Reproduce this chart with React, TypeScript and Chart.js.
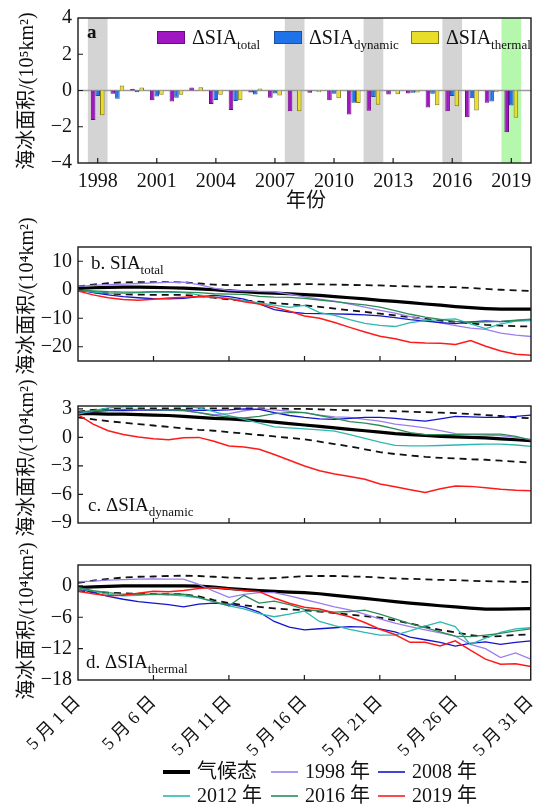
import React, { useEffect, useRef } from 'react';
import { Chart, registerables } from 'chart.js';
Chart.register(...registerables);

// ---------------- data ----------------
const years = [1998, 1999, 2000, 2001, 2002, 2003, 2004, 2005, 2006, 2007, 2008, 2009, 2010, 2011, 2012, 2013, 2014, 2015, 2016, 2017, 2018, 2019];
const totalVals = [-1.63, -0.18, 0.09, -0.54, -0.61, 0.16, -0.74, -1.08, -0.11, -0.4, -1.14, -0.13, -0.54, -1.32, -1.12, -0.22, -0.16, -0.94, -1.14, -1.48, -0.67, -2.3];
const dynamicVals = [-0.3, -0.45, -0.09, -0.33, -0.4, -0.02, -0.52, -0.58, -0.22, -0.16, -0.02, -0.02, -0.18, -0.67, -0.36, -0.02, -0.13, -0.18, -0.31, -0.43, -0.6, -0.83];
const thermalVals = [-1.36, 0.27, 0.16, -0.23, -0.23, 0.18, -0.23, -0.54, 0.11, -0.27, -1.14, -0.1, -0.43, -0.69, -0.78, -0.2, -0.11, -0.81, -0.87, -1.1, -0.1, -1.5];
const yearTicks = [1998, 2001, 2004, 2007, 2010, 2013, 2016, 2019];
const barYTicks = [-4, -2, 0, 2, 4];
const grayYears = [1998, 2008, 2012, 2016];
const greenYears = [2019];
const barLegend = [['ΔSIA', 'total'], ['ΔSIA', 'dynamic'], ['ΔSIA', 'thermal']];

const days = [1, 2, 3, 4, 5, 6, 7, 8, 9, 10, 11, 12, 13, 14, 15, 16, 17, 18, 19, 20, 21, 22, 23, 24, 25, 26, 27, 28, 29, 30, 31];
const dayTicks = [1, 6, 11, 16, 21, 26, 31];

const bClim = [0.5, 0.7, 0.8, 0.9, 0.9, 0.8, 0.7, 0.6, 0.3, 0, -0.4, -0.7, -1.0, -1.2, -1.4, -1.7, -2.0, -2.4, -2.8, -3.2, -3.7, -4.1, -4.5, -5.0, -5.4, -5.9, -6.3, -6.6, -6.8, -6.8, -6.8];
const bUpper = [1.2, 1.8, 2.3, 2.6, 2.7, 2.7, 2.7, 2.6, 2.2, 1.8, 1.6, 1.6, 1.7, 1.8, 1.9, 2.0, 1.9, 1.8, 1.7, 1.6, 1.5, 1.3, 1.2, 1.1, 1.0, 0.9, 0.6, 0.3, 0, -0.2, -0.4];
const bLower = [0, -0.8, -1.3, -1.6, -1.7, -1.8, -1.8, -1.8, -2.2, -2.8, -3.4, -3.8, -4.2, -4.7, -5.1, -5.5, -6.0, -6.6, -7.2, -7.8, -8.4, -9.0, -9.6, -10.2, -10.8, -11.3, -11.8, -12.3, -12.6, -12.8, -12.9];
const b1998 = [1.2, 1.5, 1.8, 2.0, 2.2, 2.4, 2.6, 2.7, 1.8, 0.6, -0.2, -0.4, -0.6, -0.7, -1.5, -2.5, -3.3, -4.0, -5.0, -6.1, -7.2, -8.2, -9.4, -10.5, -11.6, -12.6, -13.5, -13.9, -15.2, -15.9, -16.4];
const b2008 = [0, -1.0, -1.8, -2.4, -2.8, -3.1, -3.2, -3.0, -2.4, -2.0, -2.4, -3.3, -5.0, -7.0, -7.8, -8.3, -8.4, -8.5, -8.6, -8.8, -9.2, -9.8, -10.5, -11.0, -11.5, -11.9, -11.3, -10.9, -11.2, -10.8, -10.5];
const b2012 = [0, -0.8, -1.2, -1.3, -1.0, -0.8, -0.8, -1.0, -1.8, -2.6, -3.0, -3.8, -4.6, -5.4, -6.2, -5.5, -8.0, -9.0, -10.5, -11.8, -12.5, -12.9, -11.5, -10.8, -10.5, -10.2, -12.0, -13.6, -12.0, -11.0, -10.8];
const b2016 = [0, -0.4, -0.7, -0.8, -0.8, -0.7, -0.7, -0.8, -1.0, -1.4, -1.5, -1.6, -2.3, -2.6, -2.7, -3.0, -3.6, -4.2, -4.8, -5.3, -6.1, -7.3, -8.6, -9.6, -10.4, -11.1, -11.4, -11.3, -11.1, -10.7, -10.3];
const b2019 = [-0.4, -1.8, -2.8, -3.4, -3.7, -3.3, -2.9, -2.6, -2.4, -2.6, -3.2, -4.2, -5.0, -6.1, -7.5, -9.2, -10.0, -11.5, -13.2, -14.8, -16.3, -17.2, -18.4, -18.7, -18.8, -19.2, -17.8, -19.8, -21.5, -22.6, -23.0];
const bYTicks = [-20, -10, 0, 10];

const cClim = [2.5, 2.5, 2.45, 2.45, 2.4, 2.35, 2.3, 2.2, 2.1, 2.0, 1.95, 1.85, 1.75, 1.6, 1.45, 1.3, 1.15, 1.0, 0.85, 0.7, 0.55, 0.4, 0.3, 0.2, 0.1, 0.05, 0, -0.05, -0.15, -0.25, -0.35];
const cUpper = [2.7, 2.9, 3.0, 3.05, 3.05, 3.05, 3.05, 3.05, 3.05, 3.05, 3.05, 3.05, 3.05, 3.05, 3.0, 3.0, 2.95, 2.9, 2.85, 2.85, 2.8, 2.75, 2.7, 2.65, 2.6, 2.55, 2.45, 2.35, 2.25, 2.1, 2.0];
const cLower = [2.1, 1.9, 1.7, 1.55, 1.4, 1.25, 1.1, 0.95, 0.8, 0.7, 0.55, 0.4, 0.25, 0.1, -0.05, -0.2, -0.45, -0.7, -0.95, -1.25, -1.55, -1.75, -1.9, -2.05, -2.15, -2.2, -2.3, -2.35, -2.45, -2.55, -2.65];
const c1998 = [2.6, 2.7, 2.8, 2.8, 2.85, 2.85, 2.85, 2.8, 2.6, 2.4, 2.5, 2.8, 3.0, 2.9, 2.75, 2.6, 2.35, 2.15, 2.1, 1.9, 1.7, 1.4, 1.2, 1.0, 0.7, 0.4, 0.3, 0.25, 0.2, 0, -0.2];
const c2008 = [2.6, 2.75, 2.85, 2.85, 2.9, 2.9, 2.9, 2.9, 2.85, 2.85, 2.9, 3.0, 2.95, 2.6, 2.3, 2.1, 1.95, 1.9, 2.0, 2.1, 2.1, 2.0, 1.85, 1.7, 1.95, 2.2, 2.15, 2.1, 2.1, 2.2, 2.35];
const c2012 = [2.45, 2.8, 3.1, 3.2, 3.3, 3.35, 3.35, 3.3, 3.1, 2.7, 2.3, 1.9, 1.5, 1.1, 1.0, 0.9, 0.8, 0.65, 0.3, -0.1, -0.5, -0.85, -0.9, -0.9, -0.85, -0.8, -0.75, -0.7, -0.7, -0.8, -0.95];
const c2016 = [2.65, 2.8, 2.9, 2.95, 2.95, 2.9, 2.9, 2.85, 2.6, 2.3, 2.15, 2.05, 2.2, 2.5, 2.6, 2.6, 2.3, 2.0, 1.65, 1.5, 1.25, 0.9, 0.5, 0.3, 0.3, 0.3, 0.35, 0.35, 0.35, 0.1, -0.3];
const c2019 = [2.4, 1.4, 0.7, 0.3, 0.05, -0.15, -0.25, -0.05, 0, -0.4, -0.9, -1.0, -1.25, -1.8, -2.4, -3.0, -3.5, -3.85, -4.1, -4.4, -4.9, -5.2, -5.5, -5.8, -5.4, -5.1, -5.15, -5.3, -5.45, -5.55, -5.6];
const cYTicks = [-9, -6, -3, 0, 3];

const dClim = [-0.3, -0.2, -0.1, 0, 0, 0, 0, 0, -0.05, -0.25, -0.5, -0.7, -0.9, -1.05, -1.2, -1.3, -1.5, -1.8, -2.1, -2.4, -2.7, -3.0, -3.3, -3.55, -3.8, -4.0, -4.25, -4.45, -4.45, -4.4, -4.35];
const dUpper = [0.6, 1.0, 1.35, 1.6, 1.75, 1.8, 1.9, 1.95, 1.9, 1.75, 1.6, 1.5, 1.4, 1.5, 1.7, 1.85, 1.9, 1.9, 1.8, 1.75, 1.6, 1.45, 1.35, 1.25, 1.15, 1.1, 1.0, 0.9, 0.85, 0.8, 0.75];
const dLower = [-1.0, -1.15, -1.3, -1.4, -1.5, -1.55, -1.6, -1.6, -2.0, -2.7, -3.3, -3.7, -4.0, -4.3, -4.5, -4.65, -4.9, -5.2, -5.5, -5.8, -6.05, -6.6, -7.2, -7.8, -8.4, -8.9, -9.4, -9.75, -9.6, -9.4, -9.25];
const d1998 = [0.8, 0.9, 1.1, 1.2, 1.3, 1.35, 1.3, 1.3, 0.3, -1.0, -2.2, -1.6, -1.3, -1.3, -1.9, -2.6, -3.3, -4.0, -4.6, -5.4, -6.3, -7.1, -7.8, -8.4, -9.0, -9.6, -11.2, -12.0, -13.7, -12.8, -14.0];
const d2008 = [-0.5, -1.3, -2.0, -2.55, -3.0, -3.3, -3.6, -4.0, -3.5, -3.3, -3.5, -4.0, -5.0, -6.8, -7.9, -8.4, -8.2, -8.0, -7.8, -7.9, -8.2, -8.8, -9.8, -10.3, -10.8, -11.5, -11.0, -10.7, -11.2, -10.8, -10.5];
const d2012 = [-0.5, -1.0, -1.6, -1.9, -1.8, -1.6, -1.7, -1.9, -2.3, -3.0, -3.8, -4.4, -5.3, -5.9, -5.4, -4.8, -6.8, -7.6, -8.3, -8.9, -9.4, -9.4, -8.6, -7.7, -6.9, -7.8, -11.2, -10.0, -8.9, -8.2, -8.0];
const d2016 = [-0.3, -0.9, -1.3, -1.6, -1.6, -1.6, -1.6, -1.6, -2.2, -3.0, -3.8, -1.8, -3.3, -2.9, -3.6, -4.5, -4.8, -5.0, -4.9, -4.65, -5.4, -6.3, -7.2, -8.0, -8.8, -9.6, -9.7, -9.4, -9.1, -8.6, -8.2];
const d2019 = [-1.0, -1.5, -1.9, -1.8, -1.4, -1.0, -1.1, -0.9, -0.5, -0.3, -0.6, -0.9, -1.1, -2.3, -3.3, -4.1, -4.4, -5.2, -5.9, -7.0, -8.3, -9.3, -10.8, -10.8, -11.5, -10.5, -12.3, -14.0, -15.0, -14.9, -15.4];
const dYTicks = [-18, -12, -6, 0];

const seriesLegend = ['气候态', '1998 年', '2008 年', '2012 年', '2016 年', '2019 年'];

// ---------------- style ----------------
const SERIF = '"Liberation Serif", "Noto Sans CJK SC", serif';
const PURPLE = '#a016c0', PURPLE_B = '#6a0a84';
const BLUE = '#1f72e8', BLUE_B = '#1a4fa5';
const YELLOW = '#e8de2a', YELLOW_B = '#877a10';
const GRAY = '#d4d4d4', GREEN = '#b6f7ae';
const C_CLIM = '#000000', C1998 = '#9a7ef0', C2008 = '#1414cc', C2012 = '#2cb8b0', C2016 = '#2e8b57', C2019 = '#ff1a1a';
const seriesColors = [C_CLIM, C1998, C2008, C2012, C2016, C2019];
const seriesWidths = [4, 1.6, 1.6, 1.6, 1.6, 1.6];
const TEXT = '#111';
const W = 550, H = 805;

const fmtNum = (v: number) => (v < 0 ? '\u2212' + Math.abs(v) : String(v));

function drawFrame(chart: any, xMarks: boolean) {
  const { ctx, chartArea: a, scales } = chart;
  ctx.save();
  ctx.strokeStyle = '#1a1a1a';
  ctx.lineWidth = 1.4;
  ctx.strokeRect(a.left, a.top, a.right - a.left, a.bottom - a.top);
  ctx.lineWidth = 1.2;
  ctx.beginPath();
  for (const t of scales.y.ticks) {
    const p = scales.y.getPixelForValue(t.value);
    if (p > a.top + 1 && p < a.bottom - 1) { ctx.moveTo(a.left, p); ctx.lineTo(a.left + 5, p); }
  }
  if (xMarks) {
    for (const t of scales.x.ticks) {
      const p = scales.x.getPixelForValue(t.value);
      if (p > a.left + 1 && p < a.right - 1) { ctx.moveTo(p, a.bottom); ctx.lineTo(p, a.bottom - 5); }
    }
  }
  ctx.stroke();
  ctx.restore();
}

function drawSub(ctx: CanvasRenderingContext2D, x: number, y: number, main: string, sub: string, size: number, subSize: number) {
  ctx.save();
  ctx.fillStyle = TEXT;
  ctx.textAlign = 'left';
  ctx.textBaseline = 'alphabetic';
  ctx.font = `${size}px ${SERIF}`;
  ctx.fillText(main, x, y);
  const w = ctx.measureText(main).width;
  ctx.font = `${subSize}px ${SERIF}`;
  ctx.fillText(sub, x + w, y + subSize * 0.35);
  ctx.restore();
}

function drawVTitle(ctx: CanvasRenderingContext2D, text: string, cx: number, cy: number, size: number) {
  ctx.save();
  ctx.fillStyle = TEXT;
  ctx.font = `${size}px ${SERIF}`;
  ctx.translate(cx, cy);
  ctx.rotate(-Math.PI / 2);
  ctx.textAlign = 'center';
  ctx.textBaseline = 'middle';
  ctx.fillText(text, 0, 0);
  ctx.restore();
}

// ---------------- panel a ----------------
function configA(): any {
  const A = { left: 78, right: 531, top: 16, bottom: 163 };
  const plugin = {
    id: 'decorA',
    beforeDatasetsDraw(chart: any) {
      const { ctx, chartArea: a, scales: { x, y } } = chart;
      ctx.save();
      const band = (yr: number, color: string) => {
        const x0 = x.getPixelForValue(yr - 0.5), x1 = x.getPixelForValue(yr + 0.5);
        ctx.fillStyle = color;
        ctx.fillRect(x0, a.top, x1 - x0, a.bottom - a.top);
      };
      grayYears.forEach((yr) => band(yr, GRAY));
      greenYears.forEach((yr) => band(yr, GREEN));
      const y0 = y.getPixelForValue(0);
      ctx.strokeStyle = '#9a9a9a';
      ctx.lineWidth = 1.5;
      ctx.beginPath(); ctx.moveTo(a.left, y0); ctx.lineTo(a.right, y0); ctx.stroke();
      ctx.restore();
    },
    afterDatasetsDraw(chart: any) {
      const { ctx } = chart;
      drawFrame(chart, true);
      ctx.save();
      ctx.fillStyle = TEXT;
      ctx.font = `bold 19px ${SERIF}`;
      ctx.textBaseline = 'alphabetic';
      ctx.fillText('a', 87, 38);
      ctx.restore();
      const fills = [PURPLE, BLUE, YELLOW], borders = [PURPLE_B, BLUE_B, YELLOW_B];
      const xs = [157, 274, 411];
      barLegend.forEach(([m, s], i) => {
        ctx.save();
        ctx.fillStyle = fills[i];
        ctx.fillRect(xs[i], 31, 28, 13);
        ctx.strokeStyle = borders[i];
        ctx.lineWidth = 1;
        ctx.strokeRect(xs[i] + 0.5, 31.5, 27, 12);
        ctx.restore();
        drawSub(ctx, xs[i] + 35, 44, m, s, 20, 13);
      });
    },
    afterDraw(chart: any) {
      const { ctx } = chart;
      drawVTitle(ctx, '海冰面积/(10⁵km²)', 28, 91, 20);
      ctx.save();
      ctx.fillStyle = TEXT;
      ctx.font = `20px ${SERIF}`;
      ctx.textAlign = 'center';
      ctx.textBaseline = 'middle';
      ctx.fillText('年份', 306, 202);
      ctx.restore();
    },
  };
  const ds = (label: string, data: number[], bg: string, bd: string) => ({
    label, data, backgroundColor: bg, borderColor: bd, borderWidth: 1,
    categoryPercentage: 0.7, barPercentage: 1.0,
  });
  return {
    type: 'bar',
    data: {
      labels: years,
      datasets: [
        ds('total', totalVals, PURPLE, PURPLE_B),
        ds('dynamic', dynamicVals, BLUE, BLUE_B),
        ds('thermal', thermalVals, YELLOW, YELLOW_B),
      ],
    },
    options: {
      responsive: false, animation: false, devicePixelRatio: 1,
      layout: { padding: { left: 0, right: W - A.right, top: A.top, bottom: 0 } },
      plugins: { legend: { display: false }, tooltip: { enabled: false } },
      scales: {
        x: {
          type: 'linear', min: 1997, max: 2020, offset: false,
          grid: { display: false, drawTicks: false, offset: false }, border: { display: false },
          afterBuildTicks: (s: any) => { s.ticks = yearTicks.map((v) => ({ value: v })); },
          afterFit: (s: any) => { s.height = H - A.bottom; },
          ticks: { color: TEXT, font: { family: SERIF, size: 20 }, padding: 7, maxRotation: 0, autoSkip: false, callback: (v: any) => String(v) },
        },
        y: {
          min: -4, max: 4,
          grid: { display: false, drawTicks: false }, border: { display: false },
          afterBuildTicks: (s: any) => { s.ticks = barYTicks.map((v) => ({ value: v })); },
          afterFit: (s: any) => { s.width = A.left; },
          ticks: { color: TEXT, font: { family: SERIF, size: 20 }, padding: 6, callback: (v: any) => fmtNum(v) },
        },
      },
    },
    plugins: [plugin],
  };
}

// ---------------- line panels ----------------
type Panel = {
  top: number; bottom: number; min: number; max: number; yTicks: number[];
  clim: number[]; upper: number[]; lower: number[];
  y1998: number[]; y2008: number[]; y2012: number[]; y2016: number[]; y2019: number[];
  label: [string, string]; labelX: number; labelY: number; titleY: number; xLabels: boolean; legend: boolean;
};

function lineConfig(p: Panel): any {
  const L = 78, R = 531;
  const plugin = {
    id: 'decorLine',
    afterDatasetsDraw(chart: any) {
      drawFrame(chart, true);
      drawSub(chart.ctx, p.labelX, p.labelY, p.label[0], p.label[1], 19, 13);
    },
    afterDraw(chart: any) {
      const { ctx } = chart;
      drawVTitle(ctx, '海冰面积/(10⁴km²)', 28, p.titleY, 20);
      if (p.legend) {
        const cols = [163, 271, 378], rows = [772, 796];
        seriesLegend.forEach((name, i) => {
          const x = cols[i % 3], y = rows[Math.floor(i / 3)];
          ctx.save();
          ctx.strokeStyle = seriesColors[i];
          ctx.lineWidth = seriesWidths[i];
          ctx.beginPath(); ctx.moveTo(x, y); ctx.lineTo(x + 27, y); ctx.stroke();
          ctx.fillStyle = TEXT;
          ctx.font = `20px ${SERIF}`;
          ctx.textAlign = 'left';
          ctx.textBaseline = 'middle';
          ctx.fillText(name, x + 34, y + 1);
          ctx.restore();
        });
      }
    },
  };
  const ds = (label: string, data: number[], color: string, width: number, dash: number[] = []) => ({
    label, data, borderColor: color, backgroundColor: color, borderWidth: width, borderDash: dash,
    pointRadius: 0, fill: false, tension: 0,
  });
  return {
    type: 'line',
    data: {
      labels: days,
      datasets: [
        ds('2019', p.y2019, C2019, 1.5),
        ds('2016', p.y2016, C2016, 1.3),
        ds('2012', p.y2012, C2012, 1.3),
        ds('2008', p.y2008, C2008, 1.3),
        ds('1998', p.y1998, C1998, 1.3),
        ds('clim', p.clim, C_CLIM, 3.2),
        ds('upper', p.upper, '#111', 1.8, [7, 5]),
        ds('lower', p.lower, '#111', 1.8, [7, 5]),
      ],
    },
    options: {
      responsive: false, animation: false, devicePixelRatio: 1,
      layout: { padding: { left: 0, right: W - R, top: p.top, bottom: 0 } },
      plugins: { legend: { display: false }, tooltip: { enabled: false } },
      scales: {
        x: {
          type: 'linear', min: 1, max: 31, offset: false,
          grid: { display: false, drawTicks: true, tickLength: 8 }, border: { display: false },
          afterBuildTicks: (s: any) => { s.ticks = dayTicks.map((v) => ({ value: v })); },
          afterFit: (s: any) => { s.height = H - p.bottom; },
          ticks: {
            display: p.xLabels, color: TEXT, font: { family: SERIF, size: 18 }, padding: 4,
            maxRotation: 45, minRotation: 45, autoSkip: false,
            callback: (v: any) => `5 月 ${v} 日`,
          },
        },
        y: {
          min: p.min, max: p.max,
          grid: { display: false, drawTicks: false }, border: { display: false },
          afterBuildTicks: (s: any) => { s.ticks = p.yTicks.map((v) => ({ value: v })); },
          afterFit: (s: any) => { s.width = L; },
          ticks: { color: TEXT, font: { family: SERIF, size: 20 }, padding: 6, callback: (v: any) => fmtNum(v) },
        },
      },
    },
    plugins: [plugin],
  };
}

const panelB: Panel = {
  top: 247, bottom: 361, min: -25, max: 15, yTicks: bYTicks,
  clim: bClim, upper: bUpper, lower: bLower, y1998: b1998, y2008: b2008, y2012: b2012, y2016: b2016, y2019: b2019,
  label: ['b. SIA', 'total'], labelX: 91, labelY: 269, titleY: 296, xLabels: false, legend: false,
};
const panelC: Panel = {
  top: 406, bottom: 523, min: -9, max: 3.3, yTicks: cYTicks,
  clim: cClim, upper: cUpper, lower: cLower, y1998: c1998, y2008: c2008, y2012: c2012, y2016: c2016, y2019: c2019,
  label: ['c. ΔSIA', 'dynamic'], labelX: 88, labelY: 511, titleY: 458, xLabels: false, legend: false,
};
const panelD: Panel = {
  top: 565, bottom: 680, min: -18, max: 4, yTicks: dYTicks,
  clim: dClim, upper: dUpper, lower: dLower, y1998: d1998, y2008: d2008, y2012: d2012, y2016: d2016, y2019: d2019,
  label: ['d. ΔSIA', 'thermal'], labelX: 86, labelY: 668, titleY: 621, xLabels: true, legend: true,
};

export default function App() {
  const ra = useRef<HTMLCanvasElement>(null);
  const rb = useRef<HTMLCanvasElement>(null);
  const rc = useRef<HTMLCanvasElement>(null);
  const rd = useRef<HTMLCanvasElement>(null);
  useEffect(() => {
    const charts = [
      new Chart(ra.current as HTMLCanvasElement, configA()),
      new Chart(rb.current as HTMLCanvasElement, lineConfig(panelB)),
      new Chart(rc.current as HTMLCanvasElement, lineConfig(panelC)),
      new Chart(rd.current as HTMLCanvasElement, lineConfig(panelD)),
    ];
    return () => charts.forEach((c) => c.destroy());
  }, []);
  const cs: React.CSSProperties = { position: 'absolute', left: 0, top: 0, width: W + 'px', height: H + 'px' };
  return (
    <div style={{ position: 'absolute', left: 0, top: 0, width: W, height: H, background: '#fff', overflow: 'hidden' }}>
      <canvas ref={ra} width={W} height={H} style={cs} />
      <canvas ref={rb} width={W} height={H} style={cs} />
      <canvas ref={rc} width={W} height={H} style={cs} />
      <canvas ref={rd} width={W} height={H} style={cs} />
    </div>
  );
}
